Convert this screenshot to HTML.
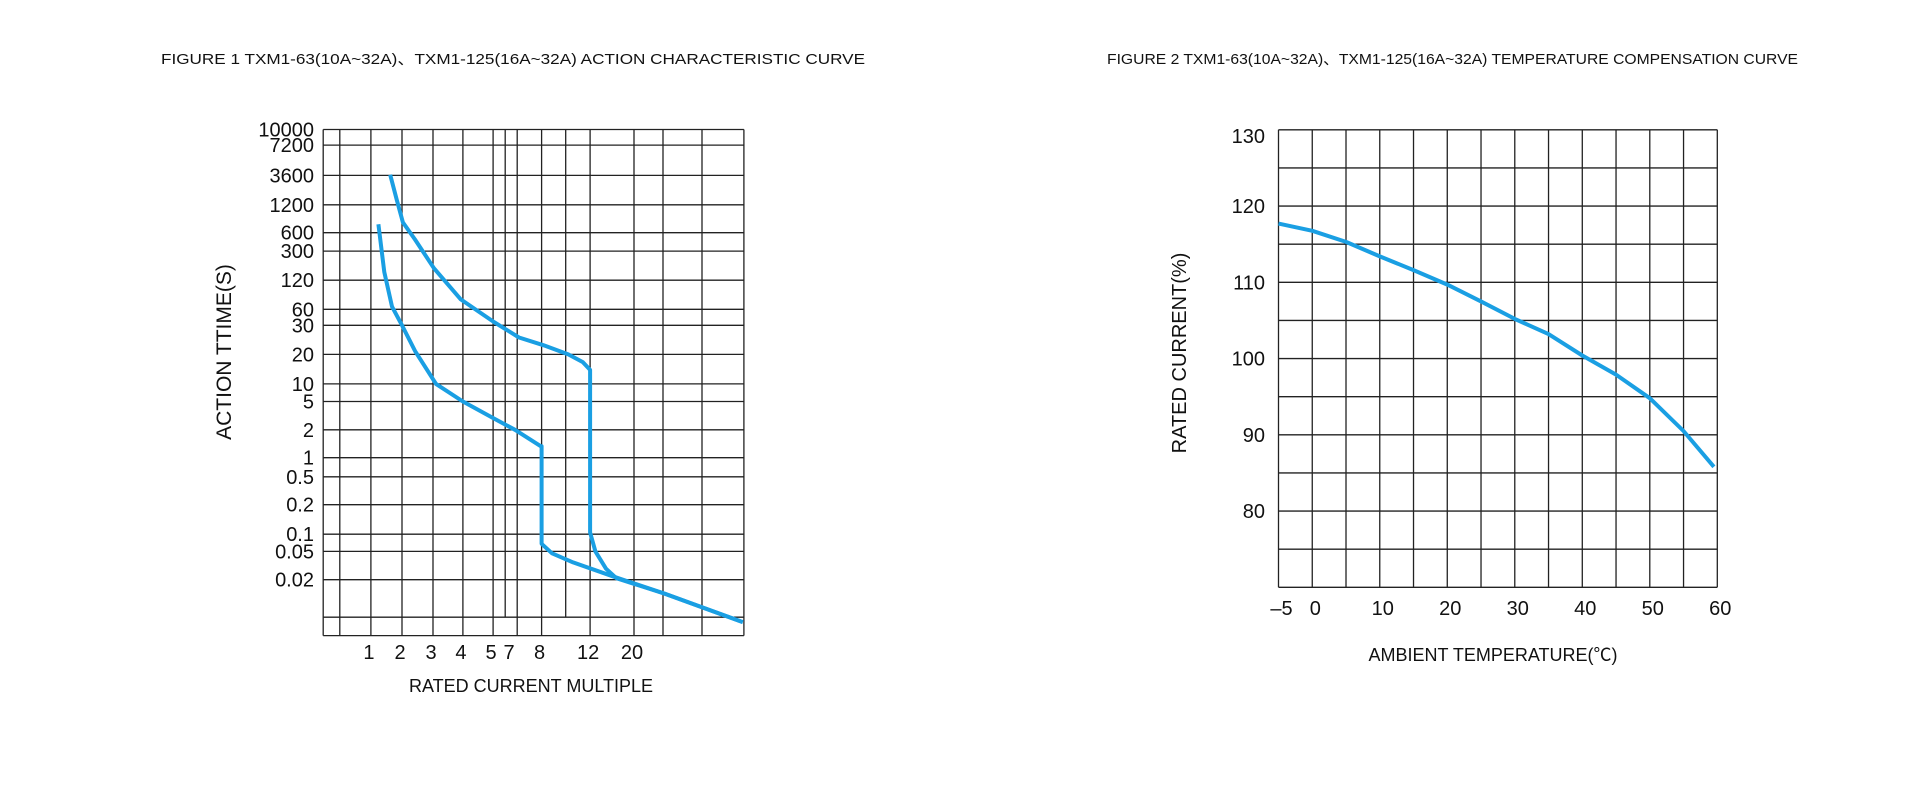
<!DOCTYPE html>
<html><head><meta charset="utf-8"><style>
html,body{margin:0;padding:0;background:#fff;}
svg{display:block;font-family:"Liberation Sans","Noto Sans CJK SC",sans-serif;}
</style></head><body>
<svg id="c" width="1930" height="800" viewBox="0 0 1930 800" xmlns="http://www.w3.org/2000/svg">
<rect width="1930" height="800" fill="#fff"/>
<text x="161" y="64" font-size="15" textLength="704" lengthAdjust="spacingAndGlyphs" fill="#111">FIGURE 1 TXM1-63(10A~32A)、TXM1-125(16A~32A) ACTION CHARACTERISTIC CURVE</text>
<text x="1107" y="64" font-size="15" textLength="691" lengthAdjust="spacingAndGlyphs" fill="#111">FIGURE 2 TXM1-63(10A~32A)、TXM1-125(16A~32A) TEMPERATURE COMPENSATION CURVE</text>
<g id="left"></g>
<g id="right"></g>
</svg>
<script>
// ---- Figure 1 data ----
const xTickValues = [1, 2, 3, 4, 5, 7, 8, 12, 20];
const yTickValues = [10000, 7200, 3600, 1200, 600, 300, 120, 60, 30, 20, 10, 5, 2, 1, 0.5, 0.2, 0.1, 0.05, 0.02];
const yTickLabels = ["10000","7200","3600","1200","600","300","120","60","30","20","10","5","2","1","0.5","0.2","0.1","0.05","0.02"];
const fastCurveX = [1.24, 1.43, 1.68, 2, 2.42, 3.1, 4, 5.05, 7.13, 7.97, 8, 8, 8.86, 10.6, 16.4, 25.5, 39.8];
const fastCurveY = [740, 155, 64, 30, 21, 10, 5, 2.9, 2, 1.33, 1.33, 0.068, 0.047, 0.035, 0.022, 0.0155, 0.0083];
const slowCurveX = [1.62, 1.83, 2.03, 2.42, 3.03, 3.93, 5.09, 7.26, 8.17, 10.2, 11.4, 12, 12, 12.97, 14.9, 16.8, 25.5, 39.8];
const slowCurveY = [3660, 1460, 775, 465, 175, 76, 34.6, 25.3, 22.7, 20, 16.7, 13.9, 0.104, 0.05, 0.0286, 0.021, 0.0155, 0.0083];
// ---- Figure 2 data ----
const tempTicks = [-5, 0, 10, 20, 30, 40, 50, 60];
const currentTicks = [130, 120, 110, 100, 90, 80];
const tempValues = [-5, 0, 5, 10, 15, 20, 25, 30, 35, 40, 45, 50, 55, 59.5];
const currentValues = [117.7, 116.75, 115.3, 113.4, 111.6, 109.7, 107.5, 105.2, 103.2, 100.4, 97.9, 94.8, 90.5, 85.8];

const NS = "http://www.w3.org/2000/svg";
function mk(parent, tag, attrs, text) {
  const e = document.createElementNS(NS, tag);
  for (const k in attrs) e.setAttribute(k, attrs[k]);
  if (text !== undefined) e.textContent = text;
  parent.appendChild(e);
  return e;
}
function interp(anchors, v, logY) {
  const f = logY ? Math.log : (a => a);
  for (let i = 0; i < anchors.length - 1; i++) {
    const [a0, p0] = anchors[i], [a1, p1] = anchors[i + 1];
    const lo = Math.min(a0, a1), hi = Math.max(a0, a1);
    if (v >= lo && v <= hi || i === anchors.length - 2) {
      return p0 + (p1 - p0) * (f(v) - f(a0)) / (f(a1) - f(a0));
    }
  }
}
// Figure 1 axis geometry (non-uniform printed grid)
const xAnchors = [[0.5, 323.2], [1, 370.9], [2, 402], [3, 433], [4, 462.9], [5, 493.1], [7, 511], [8, 541.6], [12, 590.1], [20, 634], [40, 743.9]];
const yAnchors = [[10000,129.5],[7200,145.1],[3600,175.4],[1200,204.8],[600,232.7],[300,251.1],[120,280.2],[60,309.3],[30,325.3],[20,354.4],[10,383.9],[5,401.5],[2,429.8],[1,457.7],[0.5,476.8],[0.2,504.7],[0.1,534.2],[0.05,551.4],[0.02,579.7],[0.01,617.2],[0.005,635.6]];
const sx1 = v => interp(xAnchors, v, false);
const sy1 = v => interp(yAnchors, v, true);

const L = document.getElementById('left');
const P1 = {l: 323.2, r: 743.9, t: 129.5, b: 635.6};
const vLines = [323.2, 339.8, 370.9, 402, 433, 462.9, 493.1, 505.2, 517.2, 541.6, 565.7, 590.1, 634, 663, 702, 743.9];
const shortV = [505.2, 565.7];
const grid1 = mk(L, 'g', {stroke: '#222', 'stroke-width': 1.3});


vLines.forEach(x => {
  const ln = mk(grid1, 'line', {x1: x, x2: x, y1: P1.t, y2: shortV.includes(x) ? 617.2 : P1.b});
  
  
});
yAnchors.forEach(a => {
  const ln = mk(grid1, 'line', {x1: P1.l, x2: P1.r, y1: a[1], y2: a[1]});
  
  
});
yTickValues.forEach((v, i) => {
  const t = mk(L, 'text', {x: 314, y: sy1(v) + 7, 'font-size': 20, 'text-anchor': 'end', fill: '#111'}, yTickLabels[i]);
  
  
});
xTickValues.forEach(v => {
  const t = mk(L, 'text', {x: sx1(v) - 2, y: 659, 'font-size': 20, 'text-anchor': 'middle', fill: '#111'}, String(v));
  
  
});
const xt1 = mk(L, 'text', {x: 531, y: 692, 'font-size': 18, 'text-anchor': 'middle', fill: '#111'}, 'RATED CURRENT MULTIPLE');


const yt1 = mk(L, 'text', {x: 0, y: 0, 'font-size': 21, 'text-anchor': 'middle', fill: '#111', transform: 'translate(231,352) rotate(-90)'}, 'ACTION TTIME(S)');


function curve(parent, xs, ys, sx, sy, name) {
  const d = xs.map((x, i) => (i ? 'L' : 'M') + sx(x).toFixed(1) + ' ' + sy(ys[i]).toFixed(1)).join(' ');
  const p = mk(parent, 'path', {d: d, fill: 'none', stroke: '#1a9fe3', 'stroke-width': 4, 'stroke-linejoin': 'round', 'stroke-linecap': 'butt'});
  
  
}
curve(L, fastCurveX, fastCurveY, sx1, sy1, 'lower-trip-curve');
curve(L, slowCurveX, slowCurveY, sx1, sy1, 'upper-trip-curve');

// Figure 2
const R = document.getElementById('right');
const P2 = {l: 1278.5, r: 1717.3, t: 129.8, b: 587.3};
const sx2 = v => P2.l + (v + 5) / 65 * (P2.r - P2.l);
const sy2 = v => P2.t + (130 - v) / 60 * (P2.b - P2.t);
const grid2 = mk(R, 'g', {stroke: '#222', 'stroke-width': 1.3});


for (let t = -5; t <= 60; t += 5) {
  const ln = mk(grid2, 'line', {x1: sx2(t), x2: sx2(t), y1: P2.t, y2: P2.b});
  
  
}
for (let c = 70; c <= 130; c += 5) {
  const ln = mk(grid2, 'line', {x1: P2.l, x2: P2.r, y1: sy2(c), y2: sy2(c)});
  
  
}
currentTicks.forEach(v => {
  const t = mk(R, 'text', {x: 1265, y: sy2(v) + 7 + (v === 130 ? 6 : 0), 'font-size': 20, 'text-anchor': 'end', fill: '#111'}, String(v));
  
  
});
tempTicks.forEach(v => {
  const t = mk(R, 'text', {x: sx2(v) + 3, y: 615, 'font-size': 20, 'text-anchor': 'middle', fill: '#111'}, v < 0 ? '–' + (-v) : String(v));
  
  
});
const xt2 = mk(R, 'text', {x: 1493, y: 661, 'font-size': 18, 'text-anchor': 'middle', fill: '#111'}, 'AMBIENT TEMPERATURE(℃)');


const yt2 = mk(R, 'text', {x: 0, y: 0, 'font-size': 20, 'text-anchor': 'middle', fill: '#111', transform: 'translate(1186,353) rotate(-90)'}, 'RATED CURRENT(%)');


curve(R, tempValues, currentValues, sx2, sy2, 'compensation-curve');
</script>
</body></html>
